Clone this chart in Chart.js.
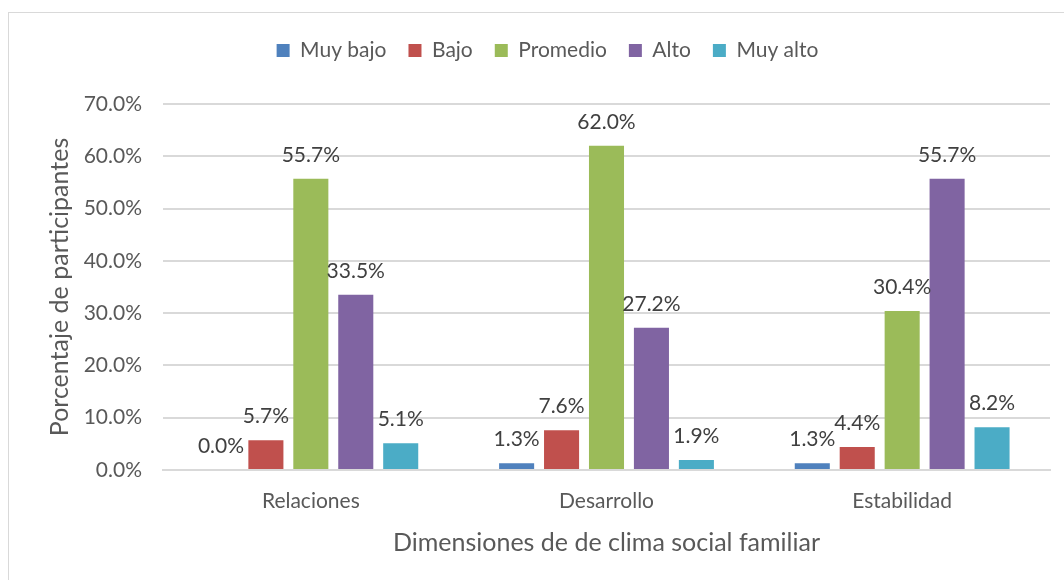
<!DOCTYPE html>
<html>
<head>
<meta charset="utf-8">
<script src="https://cdn.jsdelivr.net/npm/chart.js@4.4.1/dist/chart.umd.min.js"></script>
<style>
  html, body { margin: 0; padding: 0; background: #fff; overflow: hidden; }
  #frame { position: absolute; left: 8px; top: 12px; width: 1100px; height: 620px; border: 1px solid #d9d9d9; }
  #wrap { position: absolute; left: 0; top: 0; width: 1064px; height: 580px; }
</style>
</head>
<body>
<div id="frame"></div>
<div id="wrap"><canvas id="chart" width="1064" height="580"></canvas></div>
<script>
// Data (percent of participants)
const categories = ['Relaciones', 'Desarrollo', 'Estabilidad'];
const seriesNames = ['Muy bajo', 'Bajo', 'Promedio', 'Alto', 'Muy alto'];
const muyBajo = [0.0, 1.3, 1.3];
const bajo = [5.7, 7.6, 4.4];
const promedio = [55.7, 62.0, 30.4];
const alto = [33.5, 27.2, 55.7];
const muyAlto = [5.1, 1.9, 8.2];
const yTicks = [0, 10, 20, 30, 40, 50, 60, 70];

const colors = ['#4f81bd', '#c0504d', '#9bbb59', '#8064a2', '#4bacc6'];
const FONT = "Lato, 'Open Sans', sans-serif";

// Value labels above each bar
const barLabels = {
    id: 'barLabels',
    afterDatasetsDraw(chart) {
        const ctx = chart.ctx;
        ctx.save();
        ctx.font = `21px ${FONT}`;
        ctx.fillStyle = '#404040';
        ctx.textAlign = 'center';
        ctx.textBaseline = 'middle';
        chart.data.datasets.forEach((ds, i) => {
            chart.getDatasetMeta(i).data.forEach((bar, j) => {
                ctx.fillText(ds.data[j].toFixed(1) + '%', bar.x, bar.y - 24);
            });
        });
        ctx.restore();
    }
};

// Extra room under the legend
const legendGap = {
    id: 'legendGap',
    beforeInit(chart) {
        const fit = chart.legend.fit;
        chart.legend.fit = function () {
            fit.bind(chart.legend)();
            this.height += 33;
        };
    }
};

const allSeries = [muyBajo, bajo, promedio, alto, muyAlto];

new Chart(document.getElementById('chart'), {
    type: 'bar',
    data: {
        labels: categories,
        datasets: allSeries.map((vals, i) => ({
            label: seriesNames[i],
            data: vals,
            backgroundColor: colors[i],
            categoryPercentage: 0.76,
            barPercentage: 0.78
        }))
    },
    options: {
        responsive: false,
        animation: false,
        layout: { padding: { top: 18, left: 45, right: 14, bottom: 22 } },
        plugins: {
            tooltip: { enabled: false },
            legend: {
                position: 'top',
                labels: {
                    boxWidth: 13,
                    boxHeight: 13,
                    padding: 22,
                    color: '#595959',
                    font: { family: FONT, size: 21 }
                }
            }
        },
        scales: {
            y: {
                min: 0,
                max: 70,
                afterBuildTicks(axis) { axis.ticks = yTicks.map(v => ({ value: v })); },
                afterFit(axis) { axis.width = 118; },
                grid: { color: '#d9d9d9', lineWidth: 2, drawTicks: false },
                border: { display: false },
                ticks: {
                    padding: 21,
                    color: '#595959',
                    font: { family: FONT, size: 21 },
                    callback: v => v.toFixed(1) + '%'
                },
                title: {
                    display: true,
                    text: 'Porcentaje de participantes',
                    color: '#595959',
                    font: { family: FONT, size: 25 },
                    padding: { top: 0, bottom: 7 }
                }
            },
            x: {
                afterFit(axis) { axis.height = 88; },
                grid: { display: false, drawTicks: false },
                border: { display: true, color: '#d9d9d9', width: 2 },
                ticks: {
                    padding: 19,
                    color: '#595959',
                    font: { family: FONT, size: 21 }
                },
                title: {
                    display: true,
                    text: 'Dimensiones de de clima social familiar',
                    color: '#595959',
                    font: { family: FONT, size: 25 },
                    padding: { top: 13, bottom: 0 }
                }
            }
        }
    },
    plugins: [barLabels, legendGap]
});
</script>
</body>
</html>
